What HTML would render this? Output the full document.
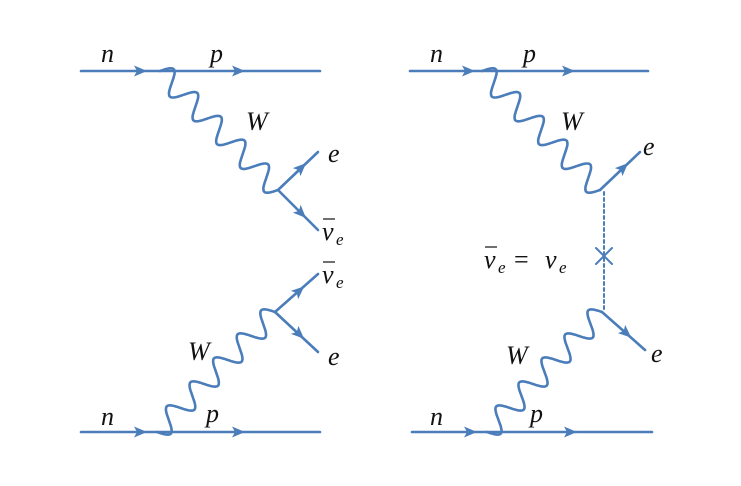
<!DOCTYPE html>
<html><head><meta charset="utf-8"><style>
html,body{margin:0;padding:0;background:#fff}
svg{display:block}
text{font-family:"Liberation Serif","DejaVu Serif",serif;font-style:italic;font-size:26px;fill:#111}
.s{font-size:17px}
.u{font-style:normal}
</style></head><body>
<svg id="s" width="741" height="486" viewBox="0 0 741 486" xmlns="http://www.w3.org/2000/svg">
<g id="g" stroke="#4a7dba" stroke-width="2.6" fill="none" stroke-linecap="round">
<line x1="81" y1="71" x2="320" y2="71"/>
<line x1="81" y1="432" x2="320" y2="432"/>
<line x1="410" y1="71" x2="648" y2="71"/>
<line x1="412" y1="432" x2="652" y2="432"/>
<line x1="278" y1="190" x2="318" y2="152"/>
<line x1="278" y1="190" x2="318" y2="230"/>
<line x1="275" y1="312" x2="318" y2="274"/>
<line x1="275" y1="312" x2="318" y2="352"/>
<line x1="600" y1="190" x2="640" y2="152"/>
<line x1="602" y1="312" x2="645" y2="350"/>
<line x1="604" y1="192" x2="604" y2="310" stroke-dasharray="3,3" stroke-width="2"/>
<line x1="596" y1="248" x2="612" y2="264" stroke-width="2"/>
<line x1="596" y1="264" x2="612" y2="248" stroke-width="2"/>
</g>
<g fill="#4a7dba" id="ar"></g>
<g font-family="Liberation Serif, DejaVu Serif, serif">
<text x="101" y="62">n</text><text x="210" y="62">p</text>
<text x="246" y="130">W</text><text x="328" y="162">e</text>
<text x="322" y="240">ν</text><text x="336" y="245" class="s">e</text>
<line x1="323" y1="219" x2="335" y2="219" stroke="#111" stroke-width="1.2"/>
<text x="322" y="283">ν</text><text x="336" y="288" class="s">e</text>
<line x1="323" y1="262" x2="335" y2="262" stroke="#111" stroke-width="1.2"/>
<text x="328" y="365">e</text><text x="188" y="360">W</text>
<text x="101" y="425">n</text><text x="206" y="422">p</text>
<text x="430" y="62">n</text><text x="523" y="62">p</text>
<text x="561" y="130">W</text><text x="643" y="155">e</text>
<text x="484" y="268">ν</text><text x="498" y="273" class="s">e</text>
<line x1="485" y1="247" x2="497" y2="247" stroke="#111" stroke-width="1.2"/>
<text x="514" y="268" class="u">=</text>
<text x="545" y="268">ν</text><text x="559" y="273" class="s">e</text>
<text x="651" y="362">e</text><text x="506" y="364">W</text>
<text x="430" y="425">n</text><text x="530" y="422">p</text>
</g>
</svg>
<script>
var g=document.getElementById('g'),ar=document.getElementById('ar'),NS='http://www.w3.org/2000/svg';
function wave(x1,y1,x2,y2,n,A){var dx=x2-x1,dy=y2-y1,L=Math.hypot(dx,dy),ux=dx/L,uy=dy/L,px=-uy,py=ux,d='';
for(var i=0;i<=300;i++){var t=i/300,s=A*Math.sin(t*n*Math.PI);var x=x1+dx*t+px*s,y=y1+dy*t+py*s;d+=(i?'L':'M')+x.toFixed(1)+' '+y.toFixed(1);}
var p=document.createElementNS(NS,'path');p.setAttribute('d',d);g.appendChild(p);}
wave(160,71,278,190,10,-11);
wave(157,432,275,312,10,11);
wave(482,71,600,190,10,-11);
wave(487,432,602,312,10,11);
function arrow(x,y,ang){var p=document.createElementNS(NS,'polygon');p.setAttribute('points','7,0 -6,-5.5 -3,0 -6,5.5');p.setAttribute('transform','translate('+x+','+y+') rotate('+ang+')');ar.appendChild(p);}
arrow(140,71,0);arrow(238,71,0);arrow(140,432,0);arrow(238,432,0);
arrow(468,71,0);arrow(568,71,0);arrow(470,432,0);arrow(570,432,0);
arrow(301,168,-43.5);arrow(301,213,45);
arrow(299,291,-41.5);arrow(299,334,43);
arrow(623,168,-43.5);arrow(626,333,41.5);
</script>
</body></html>
